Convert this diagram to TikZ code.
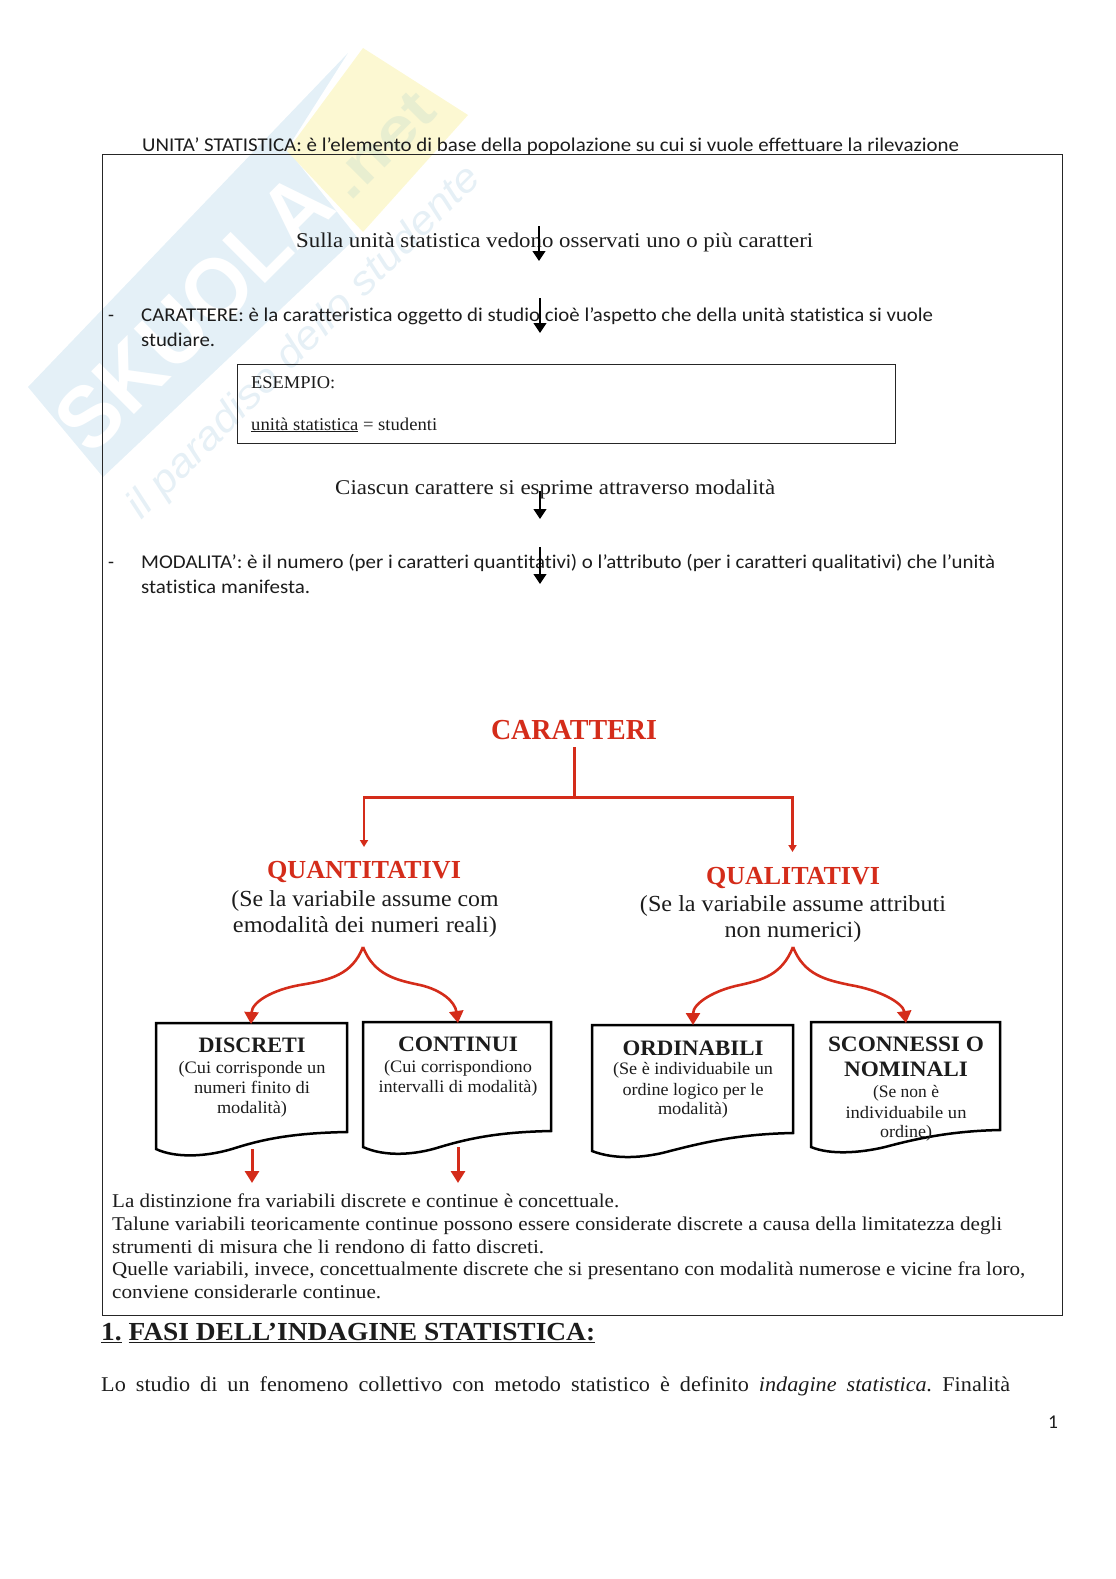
\documentclass[tikz,border=0pt]{standalone}
\usepackage{fontspec}
\usepackage{graphicx}
\usetikzlibrary{arrows.meta}
\setmainfont{Liberation Serif}
\newfontfamily\calb[Ligatures=NoCommon]{Carlito}
\newfontfamily\wmf{Liberation Sans}
\definecolor{wmblue}{HTML}{E4F0F7}
\definecolor{wmyellow}{HTML}{FCF8D2}
\definecolor{wmnet}{HTML}{E8EED0}
\definecolor{wmtext}{HTML}{E6F0F6}
\definecolor{rd}{HTML}{D42C1A}
\definecolor{ink}{HTML}{1C1C1C}
\newcommand{\wdt}[2]{\resizebox{#1pt}{\height}{#2}}
\newcommand{\fsz}[1]{\fontsize{#1pt}{#1pt}\selectfont}
\tikzset{
  txt/.style={inner sep=0pt,anchor=base west,text=ink},
  ctr/.style={inner sep=0pt,anchor=base,text=ink},
  blackarrow/.style={-{Triangle[width=13pt,length=10pt]},black,line width=1.2pt},
  redline/.style={rd,line width=3pt,line cap=rect},
  redthin/.style={rd,line width=2.2pt,-{Triangle[width=8pt,length=7pt]}},
  redcurve/.style={rd,line width=2.6pt,-{Triangle[width=14pt,length=12pt]}},
  redarrow/.style={rd,line width=3pt,-{Triangle[width=14pt,length=12pt]}},
  docbox/.style={draw=black,line width=2.5pt,line join=miter},
  framebox/.style={draw=black!85,line width=1.2pt}
}
\begin{document}
\frenchspacing
\begin{tikzpicture}[x=1pt,y=-1pt]
\useasboundingbox (0,0) rectangle (1116,1579);
% watermark
\fill[wmblue] (28,387) -- (348,53) -- (287,149) -- (357,237) -- (103,477) -- cycle;
\fill[wmyellow] (287,151) -- (363,48) -- (468,115) -- (363,232) -- cycle;
\node[rotate=45,inner sep=0pt,text=white,font=\wmf\bfseries\fontsize{88pt}{88pt}\selectfont] (wmA) at (194,312) {\resizebox{350pt}{\height}{SKUOLA}};
\node[rotate=45,inner sep=0pt,text=wmnet,font=\wmf\bfseries\fontsize{58pt}{58pt}\selectfont] (wmB) at (382,145) {\resizebox{125pt}{\height}{.net}};
\node[rotate=45,inner sep=0pt,text=wmtext,font=\wmf\itshape\fontsize{40pt}{40pt}\selectfont] (wmC) at (305,343) {\resizebox{482pt}{\height}{il paradiso dello studente}};
% frames
\node[framebox,inner sep=0pt,minimum width=959.5pt,minimum height=1161pt,anchor=north west] (main) at (102,154) {};
\node[framebox,inner sep=0pt,minimum width=658pt,minimum height=79pt,anchor=north west] (esbox) at (236.5,364) {};
% upper texts
\node[txt,font=\calb\fsz{19.5}] (t1) at (142,151) {\wdt{817}{UNITA’ STATISTICA: è l’elemento di base della popolazione su cui si vuole effettuare la rilevazione}};
\node[txt,font=\fsz{21}] (t2) at (296,247) {\wdt{517}{Sulla unità statistica vedono osservati uno o più caratteri}};
\node[txt,font=\calb\fsz{19.5}] (d1) at (108,321) {-};
\node[txt,font=\calb\fsz{19.5}] (t3) at (141,321) {\wdt{792}{CARATTERE: è la caratteristica oggetto di studio cioè l’aspetto che della unità statistica si vuole}};
\node[txt,font=\calb\fsz{19.5}] (t4) at (141,346) {\wdt{74}{studiare.}};
\node[txt,font=\fsz{18}] (t5) at (251,388) {\wdt{84}{ESEMPIO:}};
\node[txt,font=\fsz{18}] (t6) at (251,430) {\wdt{186}{\underline{unità statistica} = studenti}};
\node[txt,font=\fsz{21}] (t7) at (335,494) {\wdt{440}{Ciascun carattere si esprime attraverso modalità}};
\node[txt,font=\calb\fsz{19.5}] (d2) at (108,568) {-};
\node[txt,font=\calb\fsz{19.5}] (t8) at (141,568) {\wdt{854}{MODALITA’: è il numero (per i caratteri quantitativi) o l’attributo (per i caratteri qualitativi) che l’unità}};
\node[txt,font=\calb\fsz{19.5}] (t9) at (141,593) {\wdt{169}{statistica manifesta.}};
% small black arrows
\coordinate (a1s) at (539,226); \coordinate (a1e) at (539,261);
\coordinate (a2s) at (540,298); \coordinate (a2e) at (540,333);
\coordinate (a3s) at (540,491); \coordinate (a3e) at (540,519);
\coordinate (a4s) at (540,547); \coordinate (a4e) at (540,584);
\draw[blackarrow] (a1s) -- (a1e);
\draw[blackarrow] (a2s) -- (a2e);
\draw[blackarrow] (a3s) -- (a3e);
\draw[blackarrow] (a4s) -- (a4e);
% tree titles
\node[ctr,text=rd,font=\bfseries\fsz{29}] (car) at (574,739) {\wdt{166}{CARATTERI}};
\node[ctr,text=rd,font=\bfseries\fsz{26}] (quant) at (364,878) {\wdt{194}{QUANTITATIVI}};
\node[ctr,text=rd,font=\bfseries\fsz{26}] (qual) at (793,884) {\wdt{174}{QUALITATIVI}};
\node[ctr,font=\fsz{23}] (q1) at (365,906) {\wdt{267}{(Se la variabile assume com}};
\node[ctr,font=\fsz{23}] (q2) at (365,932) {\wdt{264}{emodalità dei numeri reali)}};
\node[ctr,font=\fsz{23}] (q3) at (793,911) {\wdt{306}{(Se la variabile assume attributi}};
\node[ctr,font=\fsz{23}] (q4) at (793,937) {\wdt{137}{non numerici)}};
% tree connectors
\coordinate (jl) at (364,797);
\coordinate (jr) at (792.5,797);
\coordinate (jm) at (574,797);
\coordinate (jt) at (574,748);
\coordinate (tl) at (364,847);
\coordinate (tr) at (792.5,852);
\draw[redline] (jt) -- (jm);
\draw[redline] (jl) -- (jr);
\draw[redthin] (jl) -- (tl);
\draw[redthin] (jr) -- (tr);
% document boxes
\draw[docbox] (156,1023) -- (347,1023) -- (347,1132) .. controls (290,1133) and (260,1140) .. (232,1149) .. controls (205,1157) and (175,1158) .. (156,1149) -- cycle;
\draw[docbox] (363,1022) -- (551,1022) -- (551,1131) .. controls (500,1132) and (470,1138) .. (440,1147) .. controls (415,1155) and (385,1157) .. (363,1147) -- cycle;
\draw[docbox] (592,1025) -- (793,1025) -- (793,1133) .. controls (740,1134) and (705,1142) .. (670,1151) .. controls (645,1158) and (615,1160) .. (592,1151) -- cycle;
\draw[docbox] (811,1022) -- (1000,1022) -- (1000,1130) .. controls (950,1131) and (915,1139) .. (885,1147) .. controls (860,1153) and (830,1155) .. (811,1147) -- cycle;
% curly arrows
\coordinate (ap1) at (363,947);
\coordinate (ap2) at (793,947);
\coordinate (c1) at (251,1024); \coordinate (c2) at (458,1023);
\coordinate (c3) at (693,1025); \coordinate (c4) at (906,1023);
\draw[redcurve] (ap1) .. controls (352,975) and (330,980) .. (300,985) .. controls (272,990) and (252,1002) .. (c1);
\draw[redcurve] (ap1) .. controls (374,975) and (396,980) .. (420,985) .. controls (442,990) and (455,1002) .. (c2);
\draw[redcurve] (ap2) .. controls (782,975) and (762,980) .. (740,985) .. controls (715,990) and (693,1003) .. (c3);
\draw[redcurve] (ap2) .. controls (804,975) and (826,980) .. (850,985) .. controls (880,990) and (903,1003) .. (c4);
% down red arrows
\coordinate (e1s) at (252,1149); \coordinate (e1e) at (252,1183);
\coordinate (e2s) at (458,1147); \coordinate (e2e) at (458,1183);
\draw[redarrow] (e1s) -- (e1e);
\draw[redarrow] (e2s) -- (e2e);
% doc text
\node[ctr,font=\bfseries\fsz{22}] (b1) at (252,1052) {\wdt{107}{DISCRETI}};
\node[ctr,font=\fsz{17.5}] (b2) at (252,1073) {\wdt{147}{(Cui corrisponde un}};
\node[ctr,font=\fsz{17.5}] (b3) at (252,1093) {\wdt{116}{numeri finito di}};
\node[ctr,font=\fsz{17.5}] (b4) at (252,1113) {\wdt{70}{modalità)}};
\node[ctr,font=\bfseries\fsz{22}] (b5) at (458,1051) {\wdt{120}{CONTINUI}};
\node[ctr,font=\fsz{17.5}] (b6) at (458,1072) {\wdt{148}{(Cui corrispondiono}};
\node[ctr,font=\fsz{17.5}] (b7) at (458,1092) {\wdt{159}{intervalli di modalità)}};
\node[ctr,font=\bfseries\fsz{22}] (b8) at (693,1055) {\wdt{141}{ORDINABILI}};
\node[ctr,font=\fsz{17.5}] (b9) at (693,1074) {\wdt{160}{(Se è individuabile un}};
\node[ctr,font=\fsz{17.5}] (b10) at (693,1095) {\wdt{141}{ordine logico per le}};
\node[ctr,font=\fsz{17.5}] (b11) at (693,1114) {\wdt{70}{modalità)}};
\node[ctr,font=\bfseries\fsz{22}] (b12) at (906,1051) {\wdt{156}{SCONNESSI O}};
\node[ctr,font=\bfseries\fsz{22}] (b13) at (906,1076) {\wdt{124}{NOMINALI}};
\node[ctr,font=\fsz{17.5}] (b14) at (906,1097) {\wdt{66}{(Se non è}};
\node[ctr,font=\fsz{17.5}] (b15) at (906,1118) {\wdt{121}{individuabile un}};
\node[ctr,font=\fsz{17.5}] (b16) at (906,1137) {\wdt{52}{ordine)}};
% paragraph
\node[txt,font=\fsz{19.5}] (p1) at (112,1207) {\wdt{507}{La distinzione fra variabili discrete e continue è concettuale.}};
\node[txt,font=\fsz{19.5}] (p2) at (112,1230) {\wdt{890}{Talune variabili teoricamente continue possono essere considerate discrete a causa della limitatezza degli}};
\node[txt,font=\fsz{19.5}] (p3) at (112,1253) {\wdt{432}{strumenti di misura che li rendono di fatto discreti.}};
\node[txt,font=\fsz{19.5}] (p4) at (112,1275) {\wdt{913}{Quelle variabili, invece, concettualmente discrete che si presentano con modalità numerose e vicine fra loro,}};
\node[txt,font=\fsz{19.5}] (p5) at (112,1298) {\wdt{269}{conviene considerarle continue.}};
% bottom
\node[txt,font=\bfseries\fsz{26}] (h1) at (101,1340) {\wdt{494}{\underline{1.}\ \underline{FASI DELL’INDAGINE STATISTICA:}}};
\node[txt,font=\fsz{21}] (h2) at (101,1391) {\wdt{909}{\makebox[860pt][s]{Lo studio di un fenomeno collettivo con metodo statistico è definito \textit{indagine statistica.} Finalità}}};
\node[txt,font=\calb\fsz{19.5}] (pg) at (1048,1428) {1};
\end{tikzpicture}
\end{document}
